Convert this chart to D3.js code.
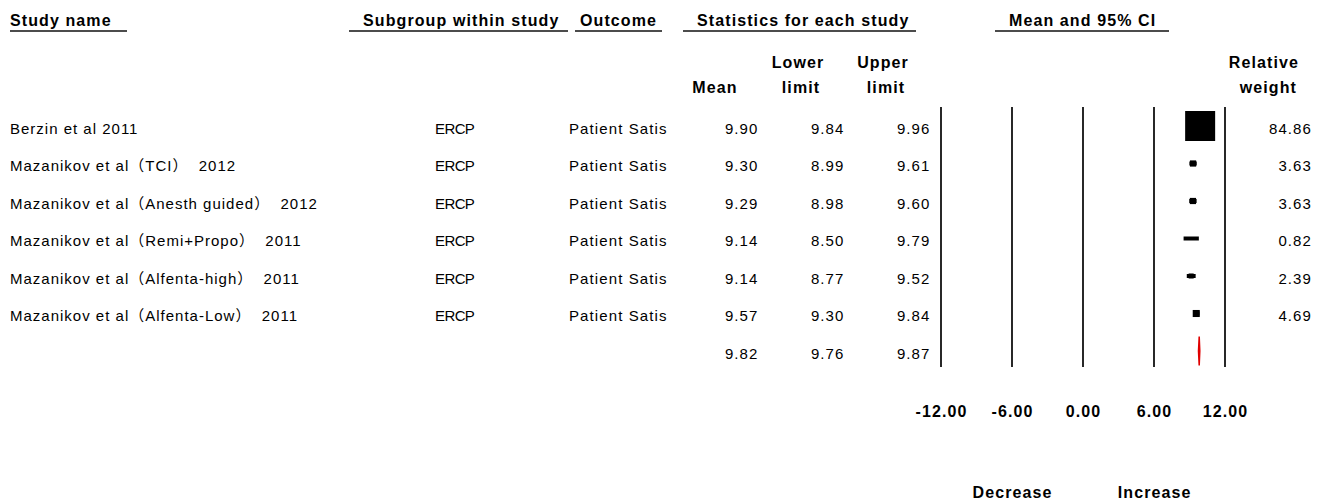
<!DOCTYPE html>
<html>
<head>
<meta charset="utf-8">
<script src="https://cdn.jsdelivr.net/npm/d3@7/dist/d3.min.js"></script>
<style>
  html, body { margin: 0; padding: 0; background: #fff; }
  svg text { font-family: "Liberation Sans", Arial, "Noto Sans CJK SC", sans-serif; fill: #000; white-space: pre; }
  .hdr { font-size: 16px; font-weight: bold; letter-spacing: 1.1px; }
  .body { font-size: 15px; letter-spacing: 1px; }
</style>
</head>
<body>
<svg id="chart" width="1327" height="504"></svg>
<script>
// Forest plot: patient satisfaction by study, mean and 95% CI
const studies = [
  "Berzin et al 2011",
  "Mazanikov et al（TCI）  2012",
  "Mazanikov et al（Anesth guided）  2012",
  "Mazanikov et al（Remi+Propo）  2011",
  "Mazanikov et al（Alfenta-high）  2011",
  "Mazanikov et al（Alfenta-Low）  2011"
];
const subgroups = ["ERCP", "ERCP", "ERCP", "ERCP", "ERCP", "ERCP"];
const outcomes = ["Patient Satis", "Patient Satis", "Patient Satis", "Patient Satis", "Patient Satis", "Patient Satis"];
const means  = [9.90, 9.30, 9.29, 9.14, 9.14, 9.57];
const lowers = [9.84, 8.99, 8.98, 8.50, 8.77, 9.30];
const uppers = [9.96, 9.61, 9.60, 9.79, 9.52, 9.84];
const weights = [84.86, 3.63, 3.63, 0.82, 2.39, 4.69];

// pooled estimate
const pooledMean = 9.82;
const pooledLower = 9.76;
const pooledUpper = 9.87;

const axisTicks = [-12, -6, 0, 6, 12];
const directionLabels = ["Decrease", "Increase"];
const directionAt = [-6, 6];

const svg = d3.select("#chart");
// plain hyphen for negative numbers
const fmt = d3.formatLocale({ decimal: ".", thousands: ",", grouping: [3], currency: ["", ""], minus: "-" }).format(".2f");

const x = d3.scaleLinear().domain([-12, 12]).range([941, 1225]);
const rowY = d3.scaleLinear().domain([0, 6]).range([126, 351]);
const side = d3.scaleSqrt().domain([0, d3.max(weights)]).range([0, 30]);
const baseOff = 7.5;

// ---- column headers ----
const headers = [
  { t: "Study name", x: 10, u0: 10, u1: 127 },
  { t: "Subgroup within study", x: 363, u0: 349, u1: 568 },
  { t: "Outcome", x: 580, u0: 575, u1: 662 },
  { t: "Statistics for each study", x: 697, u0: 683, u1: 916 },
  { t: "Mean and 95% CI", x: 1009, u0: 995, u1: 1169 }
];
svg.selectAll("text.top").data(headers).join("text")
  .attr("class", "hdr top")
  .attr("x", d => d.x).attr("y", 26)
  .text(d => d.t);
svg.selectAll("line.under").data(headers).join("line")
  .attr("class", "under")
  .attr("x1", d => d.u0).attr("x2", d => d.u1)
  .attr("y1", 31).attr("y2", 31)
  .attr("stroke", "#111").attr("stroke-width", 1.4);

const sub = [
  { t: "Mean", x: 715, y: 92.5, a: "middle" },
  { t: "Lower", x: 798, y: 68, a: "middle" },
  { t: "limit", x: 801, y: 92.5, a: "middle" },
  { t: "Upper", x: 883, y: 68, a: "middle" },
  { t: "limit", x: 886, y: 92.5, a: "middle" },
  { t: "Relative", x: 1299, y: 68, a: "end" },
  { t: "weight", x: 1297, y: 92.5, a: "end" }
];
svg.selectAll("text.sub").data(sub).join("text")
  .attr("class", "hdr sub")
  .attr("x", d => d.x).attr("y", d => d.y)
  .attr("text-anchor", d => d.a)
  .text(d => d.t);

// ---- study rows ----
const rows = studies.map((s, i) => ({
  i, name: s, sub: subgroups[i], out: outcomes[i],
  m: means[i], lo: lowers[i], hi: uppers[i], w: weights[i]
}));

const g = svg.append("g");
const cols = [
  { key: "name", x: 10, a: "start", ls: 1 },
  { key: "sub", x: 435, a: "start", ls: -0.6 },
  { key: "out", x: 569, a: "start", ls: 1.1 },
  { key: "m", x: 758.5, a: "end", ls: 1.1, f: fmt },
  { key: "lo", x: 844.5, a: "end", ls: 1.1, f: fmt },
  { key: "hi", x: 930.5, a: "end", ls: 1.1, f: fmt },
  { key: "w", x: 1312, a: "end", ls: 1.1, f: fmt }
];
cols.forEach(c => {
  g.selectAll(null).data(rows).join("text")
    .attr("class", "body")
    .attr("x", c.x).attr("y", d => rowY(d.i) + baseOff)
    .attr("text-anchor", c.a)
    .style("letter-spacing", c.ls + "px")
    .text(d => c.f ? c.f(d[c.key]) : d[c.key]);
});

// pooled row numbers
const pooledVals = [pooledMean, pooledLower, pooledUpper];
g.selectAll(null).data(pooledVals).join("text")
  .attr("class", "body")
  .attr("x", (d, k) => cols[3 + k].x)
  .attr("y", rowY(6) + baseOff)
  .attr("text-anchor", "end")
  .style("letter-spacing", "1.1px")
  .text(d => fmt(d));

// ---- plot: vertical reference lines at tick positions ----
svg.selectAll("line.grid").data(axisTicks).join("line")
  .attr("class", "grid")
  .attr("x1", d => x(d)).attr("x2", d => x(d))
  .attr("y1", 107).attr("y2", 367)
  .attr("stroke", "#111").attr("stroke-width", 1.8);

// CI lines
svg.selectAll("line.ci").data(rows).join("line")
  .attr("class", "ci")
  .attr("x1", d => x(d.lo)).attr("x2", d => x(d.hi))
  .attr("y1", d => rowY(d.i)).attr("y2", d => rowY(d.i))
  .attr("stroke", "#000").attr("stroke-width", 4);

// weight squares
svg.selectAll("rect.pt").data(rows).join("rect")
  .attr("class", "pt")
  .attr("x", d => x(d.m) - side(d.w) / 2)
  .attr("y", d => rowY(d.i) - side(d.w) / 2)
  .attr("width", d => side(d.w))
  .attr("height", d => side(d.w))
  .attr("fill", "#000");

// pooled diamond
const py = rowY(6);
const dh = 14.5;
svg.append("path")
  .attr("d", d3.line()([
    [x(pooledLower), py],
    [x(pooledMean), py - dh],
    [x(pooledUpper), py],
    [x(pooledMean), py + dh]
  ]) + "Z")
  .attr("fill", "none")
  .attr("stroke", "#e00000")
  .attr("stroke-width", 1.5);

// ---- axis labels ----
svg.selectAll("text.tick").data(axisTicks).join("text")
  .attr("class", "hdr tick")
  .attr("x", d => x(d) + 0.6).attr("y", 416.5)
  .attr("text-anchor", "middle")
  .text(d => fmt(d));

svg.selectAll("text.dir").data(directionLabels).join("text")
  .attr("class", "hdr dir")
  .attr("x", (d, k) => x(directionAt[k]) + 0.6).attr("y", 498)
  .attr("text-anchor", "middle")
  .text(d => d);
</script>
</body>
</html>
